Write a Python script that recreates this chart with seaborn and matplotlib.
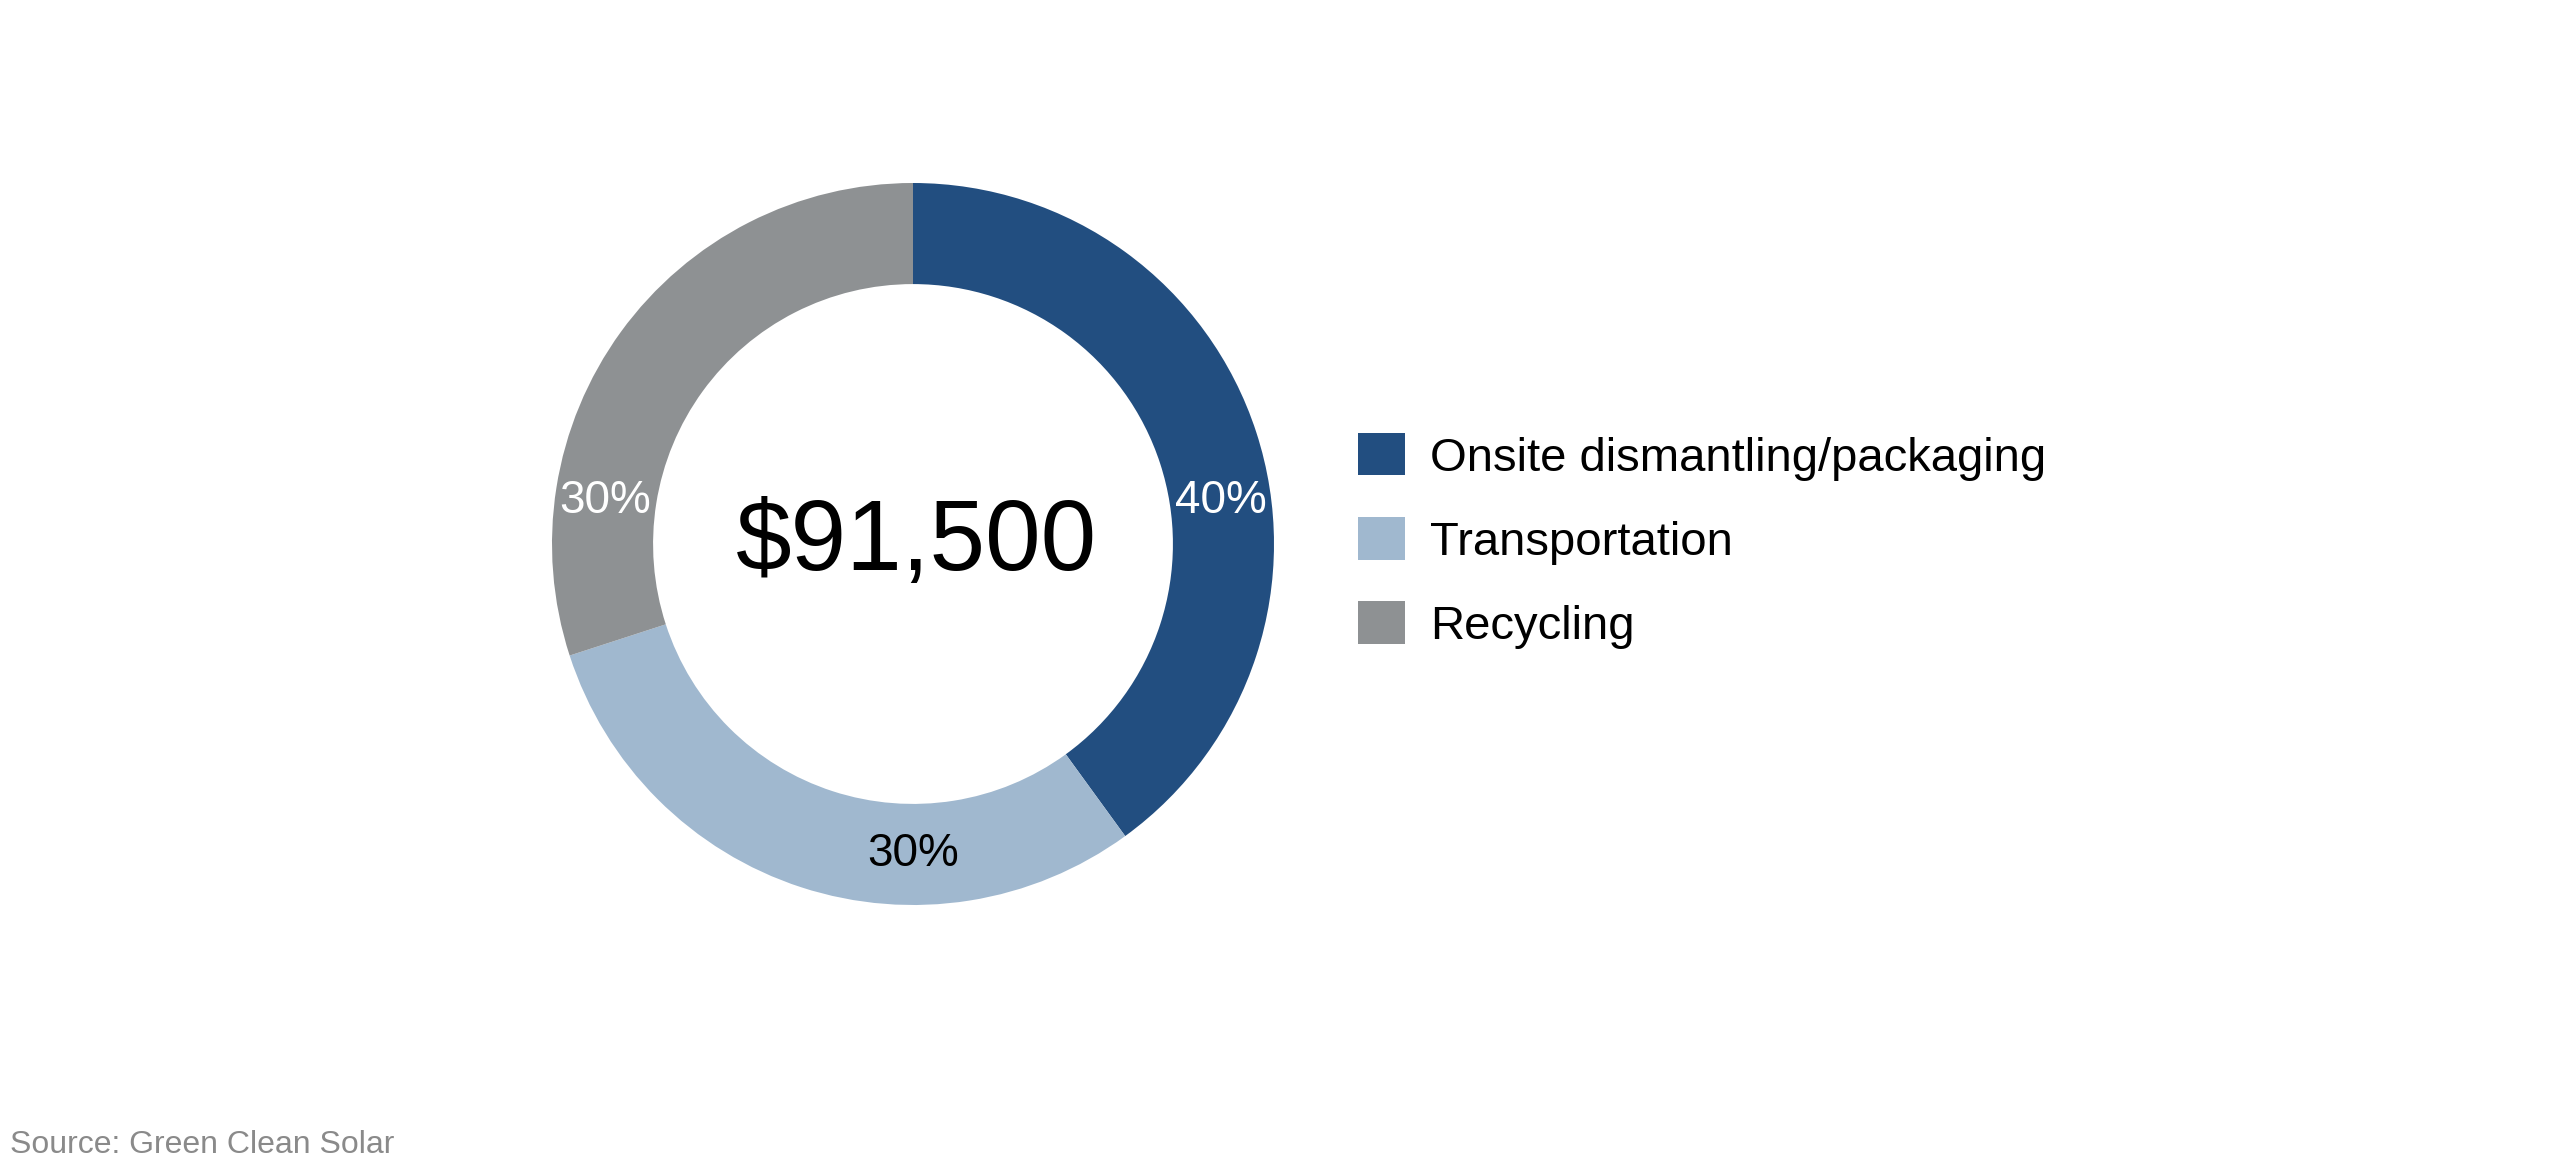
import numpy as np
import matplotlib
matplotlib.use("Agg")
import matplotlib.pyplot as plt
import seaborn as sns

# ---- data ----
categories = ["Onsite dismantling/packaging", "Transportation", "Recycling"]
shares = [40, 30, 30]
pct_labels = ["40%", "30%", "30%"]
total_label = "$91,500"
source_text = "Source: Green Clean Solar"

# ---- styles ----
colors = ["#224e80", "#a0b8cf", "#8e9193"]
label_colors = ["white", "black", "white"]
label_angles = [8, -90, 172]

sns.set_theme(style="white")
plt.rcParams["font.family"] = ["Liberation Sans", "DejaVu Sans"]

W, H = 2560, 1166
fig = plt.figure(figsize=(W / 100, H / 100), dpi=100)
fig.patch.set_facecolor("white")

cx, cy, R = 913, 544, 361
ax = fig.add_axes([(cx - R) / W, (H - cy - R) / H, 2 * R / W, 2 * R / H])
wedges, _ = ax.pie(shares, colors=colors, startangle=90, counterclock=False,
                   radius=1.0, wedgeprops=dict(width=0.28, linewidth=0))
ax.set_xlim(-1, 1)
ax.set_ylim(-1, 1)
ax.set_aspect("equal")
ax.axis("off")

rmid = 1 - 0.28 / 2
for lab, ang, col in zip(pct_labels, label_angles, label_colors):
    a = np.deg2rad(ang)
    ax.text(rmid * np.cos(a), rmid * np.sin(a), lab, ha="center", va="center",
            fontsize=33, color=col)

ax.text(0.01, 0.0, total_label, ha="center", va="center", fontsize=72, color="black")

leg = fig.legend(wedges, categories, loc="center left",
                 bbox_to_anchor=(1358 / W, 1 - 541 / H), frameon=False,
                 prop=dict(size=34), handlelength=1.0, handleheight=1.0,
                 handletextpad=0.52, labelspacing=0.78, borderpad=0, borderaxespad=0,
                 labelcolor="black")

fig.text(10 / W, 1 - 1153 / H, source_text, ha="left", va="baseline",
         fontsize=23, color="#8a8a8a")

fig.savefig("out.png", dpi=100, facecolor="white")
